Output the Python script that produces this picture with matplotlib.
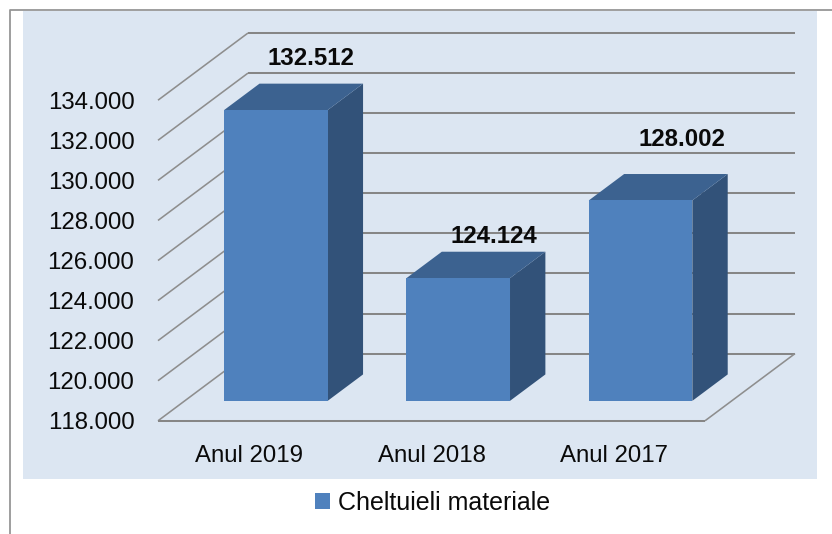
import matplotlib
matplotlib.use("Agg")
import matplotlib.pyplot as plt
from matplotlib.patches import Polygon, Rectangle, Patch

plt.rcParams['font.family'] = ['Liberation Sans', 'DejaVu Sans']
plt.rcParams['text.kerning_factor'] = 6

categories = ["Anul 2019", "Anul 2018", "Anul 2017"]
values = [132512, 124124, 128002]
value_labels = ["132.512", "124.124", "128.002"]
yticks = [118000, 120000, 122000, 124000, 126000, 128000, 130000, 132000, 134000]
ytick_labels = ["118.000", "120.000", "122.000", "124.000", "126.000", "128.000", "130.000", "132.000", "134.000"]
series_name = "Cheltuieli materiale"

W, H = 832, 534
fig = plt.figure(figsize=(W / 100, H / 100), dpi=100, facecolor="white")

# outer frame and panel (pixel rectangles)
def px_rect(x0, y0, x1, y1, **kw):
    fig.add_artist(Rectangle((x0 / W, 1 - y1 / H), (x1 - x0) / W, (y1 - y0) / H,
                             transform=fig.transFigure, **kw))

px_rect(23, 10.5, 817, 478.8, facecolor="#DCE6F2", edgecolor="none", zorder=0)
fig.add_artist(plt.Line2D([9.5 / W, 9.5 / W, 1], [0, 1 - 10.2 / H, 1 - 10.2 / H],
                          transform=fig.transFigure, color="#969696", lw=1.3, zorder=1))

ax = fig.add_axes([158 / W, 1 - 420.8 / H, (705 - 158) / W, (420.8 - 100.2) / H])
ax.patch.set_alpha(0)
ax.set_xlim(-0.5, 2.5)
ax.set_ylim(118000, 134000)
for s in ax.spines.values():
    s.set_visible(False)

xunit = (705 - 158) / 3          # px per category
yunit = (420.8 - 100.2) / 16000  # px per value unit
DX = 90 / xunit                  # wall depth, in data units
DY = 67.2 / yunit

def proj(x, v, d):
    return x + d * DX, v + d * DY

GRID = "#868686"
for v in yticks:
    xs = [-0.5, -0.5 + DX, 2.5 + DX]
    ys = [v, v + DY, v + DY]
    ax.plot(xs[:2], ys[:2], color="#8E8E8E", lw=1.15, clip_on=False, zorder=2, solid_capstyle="butt")
    ax.plot(xs[1:], ys[1:], color=GRID, lw=1.45, clip_on=False, zorder=2, solid_capstyle="butt")

# floor
b = yticks[0]
ax.plot([-0.5, 2.5], [b, b], color=GRID, lw=1.45, clip_on=False, zorder=2, solid_capstyle="butt")
ax.plot([2.5, 2.5 + DX], [b, b + DY], color="#8E8E8E", lw=1.15, clip_on=False, zorder=2,
        solid_capstyle="butt")

# bars
half = 0.284
d0, d1 = 0.297, 0.69
for i, v in enumerate(values):
    l, r = i - half, i + half
    front = [proj(l, b, d0), proj(r, b, d0), proj(r, v, d0), proj(l, v, d0)]
    side = [proj(r, b, d0), proj(r, b, d1), proj(r, v, d1), proj(r, v, d0)]
    top = [proj(l, v, d0), proj(r, v, d0), proj(r, v, d1), proj(l, v, d1)]
    ax.add_patch(Polygon(side, closed=True, facecolor="#325279", edgecolor="none", clip_on=False, zorder=4))
    ax.add_patch(Polygon(top, closed=True, facecolor="#3C6290", edgecolor="none", clip_on=False, zorder=4))
    ax.add_patch(Polygon(front, closed=True, facecolor="#4F81BD", edgecolor="none", clip_on=False, zorder=5))

# value labels: offsets in points from the front-top centre of each bar
offsets = [(25, 37), (26, 30), (29.5, 44)]
for i, (v, t, off) in enumerate(zip(values, value_labels, offsets)):
    ax.annotate(t, xy=proj(i, v, d0), xytext=off, textcoords="offset points",
                ha="center", va="center", fontsize=17.3, fontweight="bold",
                color="#0A0A0A", annotation_clip=False, zorder=6)

ax.set_yticks(yticks)
ax.set_yticklabels(ytick_labels, fontsize=17.3, color="#0A0A0A")
ax.set_xticks(range(len(categories)))
ax.set_xticklabels(categories, fontsize=17.3, color="#0A0A0A")
ax.tick_params(axis="y", length=0, pad=17)
ax.tick_params(axis="x", length=0, pad=17.5)

fig.legend(handles=[Patch(facecolor="#4F81BD", edgecolor="none", label=series_name)],
           loc="center", bbox_to_anchor=(432.5 / W, 1 - 502.5 / H), frameon=False,
           fontsize=18, labelcolor="#0A0A0A", handlelength=0.6, handleheight=0.6,
           handletextpad=0.3, borderpad=0, borderaxespad=0)

fig.savefig("out.png", dpi=100)
